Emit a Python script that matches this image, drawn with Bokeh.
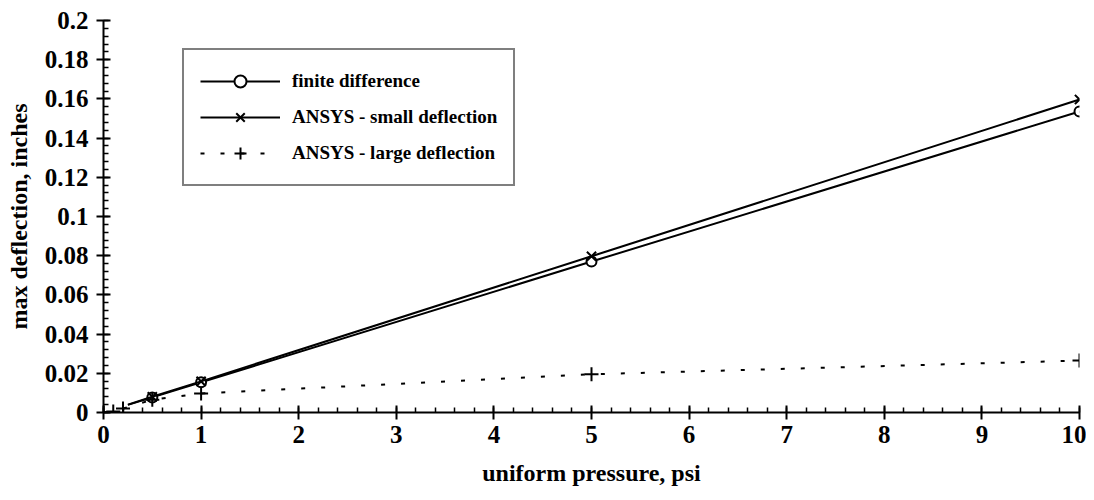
from bokeh.plotting import figure
from bokeh.models import Legend, LegendItem, FixedTicker, Range1d
from bokeh.embed import file_html
from bokeh.resources import INLINE

# data
fd_x = [0.25, 0.5, 1, 5, 10]
fd_y = [0.0039, 0.0077, 0.0154, 0.077, 0.1536]
small_x = [0.25, 0.5, 1, 5, 10]
small_y = [0.004, 0.008, 0.0159, 0.0797, 0.1597]
large_x = [0, 0.1, 0.2, 0.5, 1, 5, 10]
large_y = [0.0, 0.0005, 0.002, 0.0065, 0.0097, 0.0195, 0.0265]

x_ticks = list(range(0, 11))
y_ticks = [0, 0.02, 0.04, 0.06, 0.08, 0.1, 0.12, 0.14, 0.16, 0.18, 0.2]
y_labels = ["0", "0.02", "0.04", "0.06", "0.08", "0.1", "0.12", "0.14", "0.16", "0.18", "0.2"]

FONT = "Liberation Serif"

p = figure(width=1086, height=492, output_backend="svg", toolbar_location=None,
           x_range=Range1d(0, 10), y_range=Range1d(0, 0.2),
           min_border_left=103, min_border_right=7, min_border_top=20, min_border_bottom=80)
p.outline_line_color = None
p.xgrid.grid_line_color = None
p.ygrid.grid_line_color = None

fd_mx = [x for x in fd_x if x >= 0.5]
fd_my = [y for x, y in zip(fd_x, fd_y) if x >= 0.5]
sm_mx = [x for x in small_x if x >= 0.5]
sm_my = [y for x, y in zip(small_x, small_y) if x >= 0.5]

r_fd_l = p.line(fd_x, fd_y, line_color="black", line_width=2)
r_fd_m = p.scatter(fd_mx, fd_my, marker="circle", size=10, line_color="black", fill_color="white", line_width=2)
r_sm_l = p.line(small_x, small_y, line_color="black", line_width=2)
r_sm_m = p.scatter(sm_mx, sm_my, marker="x", size=13, line_color="black", line_width=2)
r_lg_l = p.line(large_x, large_y, line_color="black", line_width=2, line_dash="4 16")
r_lg_m = p.scatter(large_x, large_y, marker="cross", size=14, line_color="black", line_width=2)

for ax in (p.xaxis[0], p.yaxis[0]):
    ax.major_tick_in = 7
    ax.major_tick_out = 7
    ax.minor_tick_in = 5
    ax.minor_tick_out = 0
    ax.axis_line_width = 2
    ax.axis_line_color = "black"
    ax.major_tick_line_width = 2
    ax.major_tick_line_color = "black"
    ax.minor_tick_line_width = 1.5
    ax.minor_tick_line_color = "black"
    ax.major_label_text_font = FONT
    ax.major_label_text_font_style = "bold"
    ax.major_label_text_font_size = "25px"
    ax.major_label_text_color = "black"
    ax.axis_label_text_font = FONT
    ax.axis_label_text_font_style = "bold"
    ax.axis_label_text_font_size = "24px"
    ax.axis_label_text_color = "black"

xa = p.xaxis[0]
xa.ticker = FixedTicker(ticks=x_ticks, minor_ticks=[i / 5 for i in range(0, 51)])
xa.major_label_standoff = 6
xa.axis_label = "uniform pressure, psi"
xa.axis_label_standoff = 14

ya = p.yaxis[0]
ya.ticker = FixedTicker(ticks=y_ticks, minor_ticks=[i * 0.004 for i in range(0, 51)])
ya.major_label_overrides = {t: l for t, l in zip(y_ticks, y_labels)}
ya.major_label_standoff = 8
ya.axis_label = "max deflection, inches"
ya.axis_label_standoff = 10

legend = Legend(items=[
    LegendItem(label="finite difference", renderers=[r_fd_l, r_fd_m]),
    LegendItem(label="ANSYS - small deflection", renderers=[r_sm_l, r_sm_m]),
    LegendItem(label="ANSYS - large deflection", renderers=[r_lg_l, r_lg_m]),
], location=(79, 226))
legend.border_line_color = "black"
legend.border_line_width = 2
legend.background_fill_color = "white"
legend.label_text_font = FONT
legend.label_text_font_style = "bold"
legend.label_text_font_size = "19px"
legend.label_text_color = "black"
legend.glyph_width = 80
legend.glyph_height = 30
legend.spacing = 6
legend.padding = 16
legend.label_standoff = 12
p.add_layout(legend, "center")

open("out.html", "w").write(file_html(p, INLINE))
